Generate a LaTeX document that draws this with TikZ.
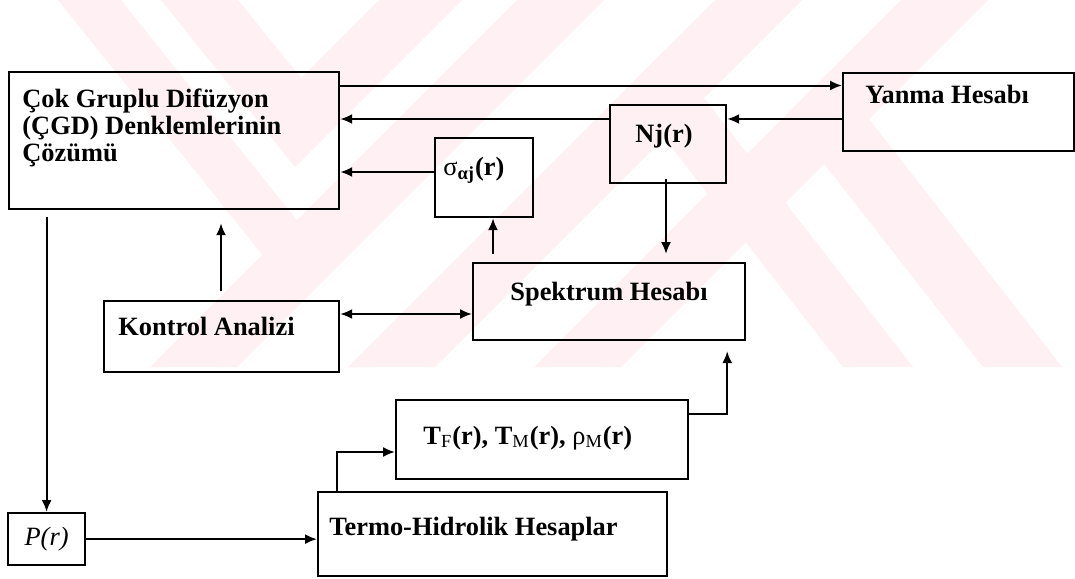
\documentclass[tikz,border=0pt]{standalone}
\usepackage{fontspec}
\setmainfont{Liberation Serif}
\usetikzlibrary{arrows.meta,calc,positioning}
\definecolor{filigran}{RGB}{254,240,243}
\newcommand{\yazi}{\fontsize{13.2}{13.5}\selectfont}

\begin{document}
\begin{tikzpicture}[x=0.5pt, y=-0.5pt,
    kutu/.style={draw, line width=1.1pt, anchor=north west, inner sep=0pt},
    metin/.style={inner sep=0pt, anchor=base west, font=\bfseries\yazi},
    ok/.style={line width=1pt, -{Latex[length=6pt,width=5pt]}},
    ciftok/.style={line width=1pt, {Latex[length=6pt,width=5pt]}-{Latex[length=6pt,width=5pt]}}
  ]
  \useasboundingbox (0,0) rectangle (1075,578);

  % filigran
  \begin{scope}
    \clip (0,0) rectangle (1075,367);
    \fill[filigran] (161,0) -- (238,0) -- (301,78) -- (379,0) -- (462,0) -- (295,167) -- cycle;
    \fill[filigran] (517,0) -- (604,0) -- (237,367) -- (150,367) -- cycle;
    \fill[filigran] (58,0) -- (121,0) -- (335,268) -- (301,303) -- cycle;
    \fill[filigran] (715,0) -- (802,0) -- (435,367) -- (348,367) -- cycle;
    \fill[filigran] (901,0) -- (988,0) -- (621,367) -- (534,367) -- cycle;
    \fill[filigran] (626,89) -- (666,49) -- (913,367) -- (843,367) -- cycle;
    \fill[filigran] (786,115) -- (831,70) -- (1062,367) -- (983,367) -- cycle;
  \end{scope}

  % kutular
  \node[kutu, minimum width=165pt, minimum height=68.5pt] (cgd) at (8,71) {};
  \node[kutu, minimum width=115.5pt, minimum height=39pt] (yanma) at (842,72) {};
  \node[kutu, minimum width=58pt, minimum height=39pt] (nj) at (609,104) {};
  \node[kutu, minimum width=49pt, minimum height=39.5pt] (sigma) at (434,137) {};
  \node[kutu, minimum width=136pt, minimum height=38.5pt] (spektrum) at (472,262) {};
  \node[kutu, minimum width=117.5pt, minimum height=35.5pt] (kontrol) at (103,300) {};
  \node[kutu, minimum width=146pt, minimum height=39.5pt] (tbox) at (395,399) {};
  \node[kutu, minimum width=174.5pt, minimum height=42pt] (termo) at (317,491) {};
  \node[kutu, minimum width=38.5pt, minimum height=26pt] (pr) at (7,512) {};

  % yazilar
  \node[metin, anchor=north west, align=left] (cgdyazi) at (22,89)
    {Çok Gruplu Difüzyon\\(ÇGD) Denklemlerinin\\Çözümü};
  \node[metin] (yanmayazi) at (865,103) {Yanma Hesabı};
  \node[metin] (njyazi) at (635,142) {Nj(r)};
  \node[metin] (sigmayazi) at (443,175) {{\mdseries σ}\textsubscript{αj}(r)};
  \node[metin] (spektrumyazi) at (510,300) {Spektrum Hesabı};
  \node[metin] (kontrolyazi) at (118,335) {Kontrol Analizi};
  \node[metin] (tyazi) at (423,444)
    {T\textsubscript{\mdseries F}(r), T\textsubscript{\mdseries M}(r), {\mdseries ρ}\textsubscript{\mdseries M}(r)};
  \node[metin] (termoyazi) at (329,535) {Termo-Hidrolik Hesaplar};
  \node[inner sep=0pt, font=\itshape\yazi] (pryazi) at (pr.center) {P(r)};

  % oklar
  \draw[ok] (cgd.north east) ++(0,14.5) coordinate (c1) -- (c1 -| yanma.west);
  \draw[ok] (yanma.north west) ++(0,47) coordinate (c2) -- (c2 -| nj.east);
  \draw[ok] (nj.north west) ++(0,15) coordinate (c3) -- (c3 -| cgd.east);
  \draw[ok] (sigma.north west) ++(0,35) coordinate (c4) -- (c4 -| cgd.east);
  \draw[ok] (spektrum.north west) ++(21,-8) coordinate (c5) -- (c5 |- sigma.south);
  \draw[ok] (nj.south west) ++(57,-5) coordinate (c6) -- ($(c6 |- spektrum.north)+(0,-8)$);
  \draw[ok] (kontrol.north west) ++(118,-9) coordinate (c7) -- ($(c7 |- cgd.south)+(0,13)$);
  \draw[ciftok] (kontrol.north east) ++(0,14) coordinate (c8) -- (c8 -| spektrum.west);
  \draw[ok] (tbox.north east) ++(0,15) coordinate (c9) -- ++(38,0) coordinate (c9b)
    -- ($(c9b |- spektrum.south)+(0,10)$);
  \draw[ok] (termo.north west) ++(20,0) coordinate (c10) |- ($(tbox.north west)+(0,53)$);
  \draw[ok] (pr.east) -- (pr.east -| termo.west);
  \draw[ok] (pr.north |- cgd.south) ++(0,7) -- (pr.north);
\end{tikzpicture}
\end{document}
